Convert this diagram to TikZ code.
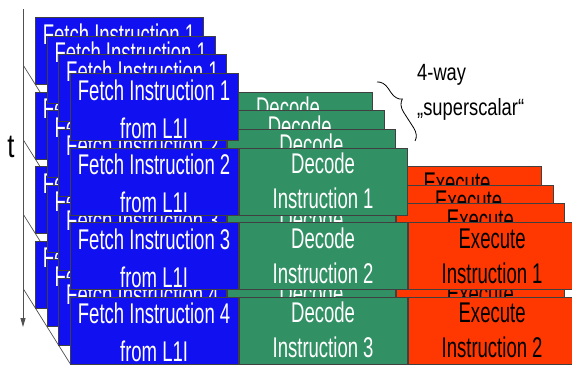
\documentclass[tikz,border=0pt]{standalone}
\usepackage{fontspec}
\setmainfont{Liberation Sans}
\newfontfamily\boxfont[FakeStretch=0.65]{Liberation Sans}
\newfontfamily\sidefont[FakeStretch=0.78]{Liberation Sans}
\usetikzlibrary{arrows.meta,decorations.pathreplacing}
\definecolor{fetchblue}{RGB}{16,16,240}
\definecolor{decodegreen}{RGB}{50,145,100}
\definecolor{execred}{RGB}{255,55,0}
\definecolor{axisgray}{RGB}{80,80,80}
\begin{document}
\begin{tikzpicture}[x=1pt,y=-1pt,
  stagebox/.style={draw=black!75,line width=0.7pt,minimum width=168pt,
    minimum height=67pt,inner sep=0pt,anchor=north west},
  stagetext/.style={font=\boxfont\fontsize{28.5}{28.5}\selectfont,inner sep=0pt,anchor=base},
  sidetext/.style={font=\sidefont\fontsize{23.5}{23.5}\selectfont,inner sep=0pt,anchor=base west},
  axisline/.style={draw=axisgray,line width=0.8pt}]
\useasboundingbox (0,0) rectangle (572,367);
\clip (0,0) rectangle (572,367);

% time axis
\coordinate (axtop) at (23,9);
\coordinate (axbot) at (23,327);
\draw[axisline,-{Triangle[length=9pt,width=5pt]}] (axtop) -- (axbot);
\node[font=\sidefont\fontsize{33}{33}\selectfont,inner sep=0pt,anchor=base] (tlabel) at (11,157) {t};

% depth edges through the lower left corners of each time step
\foreach \r in {0,...,3}{
  \coordinate (dg\r a) at (23.3,65.3+74.5*\r);
  \coordinate (dg\r b) at (70.1,140.1+74.5*\r);
  \draw[axisline,line width=0.7pt] (dg\r a) -- (dg\r b);
}

% four pipeline layers, back to front
\foreach \d in {0,...,3}{
  \pgfmathsetmacro\bx{35+11.7*\d}
  % fetch stage
  \foreach \r in {0,...,3}{
    \pgfmathsetmacro\by{17+74.5*\r+18.7*\d}
    \pgfmathtruncatemacro\n{\r+1}
    \node[stagebox,fill=fetchblue] (f\d\r) at (\bx,\by) {};
    \node[stagetext,text=white] (fa\d\r) at (\bx+84,\by+27) {Fetch Instruction \n};
    \node[stagetext,text=white] (fb\d\r) at (\bx+84,\by+65) {from L1I};
  }
  % decode stage
  \foreach \r in {1,...,3}{
    \pgfmathsetmacro\by{17+74.5*\r+18.7*\d}
    \node[stagebox,fill=decodegreen] (d\d\r) at (\bx+169,\by) {};
    \node[stagetext,text=white] (da\d\r) at (\bx+253,\by+26) {Decode};
    \node[stagetext,text=white] (db\d\r) at (\bx+253,\by+61) {Instruction \r};
  }
  % execute stage
  \foreach \r in {2,3}{
    \pgfmathsetmacro\by{17+74.5*\r+18.7*\d}
    \pgfmathtruncatemacro\n{\r-1}
    \node[stagebox,fill=execred] (e\d\r) at (\bx+338,\by) {};
    \node[stagetext,text=black] (ea\d\r) at (\bx+422,\by+26) {Execute};
    \node[stagetext,text=black] (eb\d\r) at (\bx+422,\by+61) {Instruction \n};
  }
}

% brace across the depth of the decode stack
\coordinate (brA) at (377,82);
\coordinate (brB) at (415,141);
\draw[line width=0.8pt,decorate,decoration={brace,amplitude=12pt,aspect=0.4}] (brA) -- (brB);
\node[sidetext] (way) at (417,80) {4-way};
\node[sidetext] (ssc) at (417,115) {„superscalar“};
\end{tikzpicture}
\end{document}
